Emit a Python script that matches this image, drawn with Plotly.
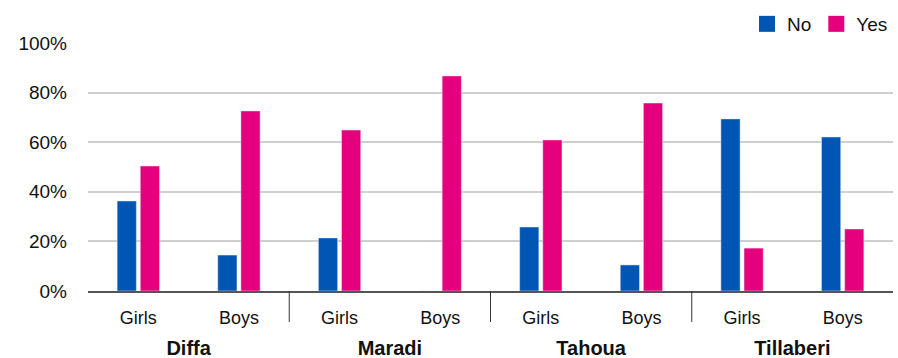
import plotly.graph_objects as go

regions = ["Diffa", "Diffa", "Maradi", "Maradi", "Tahoua", "Tahoua", "Tillaberi", "Tillaberi"]
genders = ["Girls", "Boys", "Girls", "Boys", "Girls", "Boys", "Girls", "Boys"]
no_vals = [36.3, 14.5, 21.4, 0, 25.8, 10.5, 69.4, 62.1]
yes_vals = [50.4, 72.6, 64.9, 86.7, 60.9, 75.8, 17.3, 25.0]
y_ticks = [0, 20, 40, 60, 80, 100]
y_tick_labels = ["0%", "20%", "40%", "60%", "80%", "100%"]

BLUE = "#0055b5"
PINK = "#e5007d"
FONT = "Liberation Sans, Arial, Helvetica, sans-serif"

region_labels = ['<br><span style="font-size:20px"><b>%s</b></span>' % r for r in regions]
gender_labels = ['<span style="font-size:18px">%s</span>' % g for g in genders]
x = [region_labels, gender_labels]

fig = go.Figure()
fig.add_trace(go.Bar(x=x, y=no_vals, name="No", marker=dict(color=BLUE), showlegend=False))
fig.add_trace(go.Bar(x=x, y=yes_vals, name="Yes", marker=dict(color=PINK), showlegend=False))
# legend markers (square swatches)
fig.add_trace(go.Scatter(x=[[region_labels[0]], [gender_labels[0]]], y=[None], mode="markers", name="No",
                         marker=dict(symbol="square", size=16, color=BLUE)))
fig.add_trace(go.Scatter(x=[[region_labels[0]], [gender_labels[0]]], y=[None], mode="markers", name="Yes",
                         marker=dict(symbol="square", size=16, color=PINK)))

# group dividers between regions (below the axis, first label level only)
n = len(regions)
for i in range(1, n):
    if regions[i] != regions[i - 1]:
        fig.add_shape(type="line", xref="x", yref="paper", x0=i - 0.5, x1=i - 0.5,
                      y0=0, y1=-0.125, line=dict(color="#333333", width=1))

fig.update_layout(
    width=898, height=358,
    margin=dict(l=88, r=5, t=43, b=67),
    paper_bgcolor="white", plot_bgcolor="white",
    font=dict(family=FONT, color="#111111"),
    barmode="group", bargap=0.54, bargroupgap=0.17,
    showlegend=True,
    legend=dict(orientation="h", x=1.0, xanchor="right", y=1.0, yanchor="bottom",
                font=dict(size=19, color="#111111"), itemwidth=30,
                bgcolor="rgba(0,0,0,0)"),
)
fig.update_yaxes(range=[0, 100], tickvals=y_ticks, ticktext=y_tick_labels,
                 showgrid=True, gridcolor="#cfcfcf", gridwidth=1.5,
                 zeroline=False, showline=False, ticks="", automargin=False,
                 ticklabelstandoff=20, tickfont=dict(size=19, color="#111111"))
fig.update_xaxes(type="multicategory", showline=True, linecolor="#555555", linewidth=1.5,
                 ticks="", showgrid=False, tickfont=dict(size=16, color="#111111"),
                 showdividers=False, ticklabelstandoff=12, automargin=False)

fig.write_html("out.html")
